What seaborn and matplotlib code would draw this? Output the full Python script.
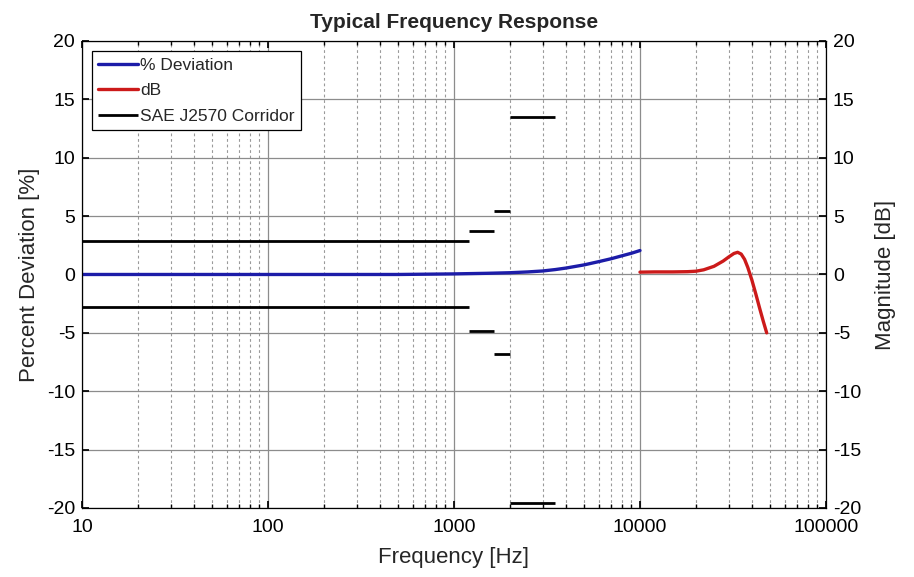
import matplotlib
matplotlib.use("Agg")
import matplotlib.pyplot as plt
import seaborn as sns
import numpy as np
import pandas as pd

# ---- data ----
dev_freq = [10, 100, 500, 1000, 1500, 2000, 2500, 3000, 3500, 4000, 5000, 6000, 7000, 8000, 9000, 10000]
dev_pct = [0.0, 0.0, 0.0, 0.05, 0.1, 0.15, 0.22, 0.3, 0.42, 0.55, 0.82, 1.1, 1.35, 1.6, 1.82, 2.05]

db_freq = [10000, 12000, 15000, 18000, 20000, 22000, 25000, 28000, 30000, 32000, 33500, 35000, 36500, 38000, 40000, 42000, 44000, 46000, 48000]
db_val = [0.2, 0.22, 0.22, 0.24, 0.28, 0.4, 0.7, 1.15, 1.5, 1.8, 1.9, 1.75, 1.3, 0.6, -0.5, -1.7, -2.9, -4.0, -5.0]

corr_f_start = [10, 1200, 1650, 2000]
corr_f_end = [1200, 1650, 2000, 3500]
corr_upper = [2.9, 3.7, 5.4, 13.5]
corr_lower = [-2.8, -4.8, -6.8, -19.6]

yticks = [-20, -15, -10, -5, 0, 5, 10, 15, 20]
xticks = [10, 100, 1000, 10000, 100000]
xticklabels = ["10", "100", "1000", "10000", "100000"]

sns.set_theme(style="white")
plt.rcParams['font.family'] = ['Liberation Sans', 'DejaVu Sans']

fig = plt.figure(figsize=(9.14, 5.77), dpi=100)
ax = fig.add_axes([0.0897, 0.1196, 0.8140, 0.8094])

blue = "#1c1ca8"
red = "#cc1a1a"

df_dev = pd.DataFrame({"f": dev_freq, "v": dev_pct})
df_db = pd.DataFrame({"f": db_freq, "v": db_val})

sns.lineplot(data=df_dev, x="f", y="v", ax=ax, color=blue, lw=2.4, label="% Deviation")
sns.lineplot(data=df_db, x="f", y="v", ax=ax, color=red, lw=2.4, label="dB")
ax.hlines(corr_upper, corr_f_start, corr_f_end, color="black", lw=2.0, label="SAE J2570 Corridor")
ax.hlines(corr_lower, corr_f_start, corr_f_end, color="black", lw=2.0)

ax.set_xscale("log")
ax.set_xlim(10, 100000)
ax.set_ylim(-20, 20)
ax.set_xticks(xticks)
ax.set_xticklabels(xticklabels)
ax.set_yticks(yticks)
ax.set_yticklabels([str(v) for v in yticks])

ax.grid(True, which="major", axis="both", color="#8c8c8c", lw=0.9, ls="-")
ax.grid(True, which="minor", axis="x", color="#9a9a9a", lw=0.8, ls=(0, (2.5, 2.5)))
ax.set_axisbelow(True)

ax.xaxis.set_minor_locator(matplotlib.ticker.LogLocator(base=10, subs=np.arange(2, 10)))
ax.xaxis.set_minor_formatter(matplotlib.ticker.NullFormatter())
ax.tick_params(axis="both", which="both", direction="in", labelsize=14, colors="black")
ax.tick_params(which="major", length=5, top=True, bottom=True, left=True)
ax.tick_params(which="minor", length=3, top=True, bottom=True)
ax.tick_params(axis="x", which="major", pad=8)
ax.tick_params(axis="y", which="major", pad=5)

for s in ax.spines.values():
    s.set_color("black")
    s.set_linewidth(0.9)

ax.set_xlabel("Frequency [Hz]", fontsize=16, labelpad=8)
ax.set_ylabel("Percent Deviation [%]", fontsize=16, labelpad=5)
ax.set_title("Typical Frequency Response", fontsize=15, fontweight="bold", pad=9)

ax2 = ax.twinx()
ax2.set_ylim(-20, 20)
ax2.set_yticks(yticks)
ax2.set_yticklabels([str(v) for v in yticks])
ax2.tick_params(axis="y", direction="in", labelsize=14, length=5, colors="black", pad=5)
ax2.set_ylabel("Magnitude [dB]", fontsize=16, labelpad=10)
ax2.grid(False)
for s in ax2.spines.values():
    s.set_visible(False)

leg = ax.legend(loc="upper left", fontsize=12.5, frameon=True, fancybox=False,
                edgecolor="black", framealpha=1, borderpad=0.35, labelspacing=0.6,
                handlelength=2.25, handletextpad=0.15, borderaxespad=0.6)
leg.get_frame().set_linewidth(0.9)

fig.savefig("out.png", dpi=100)
